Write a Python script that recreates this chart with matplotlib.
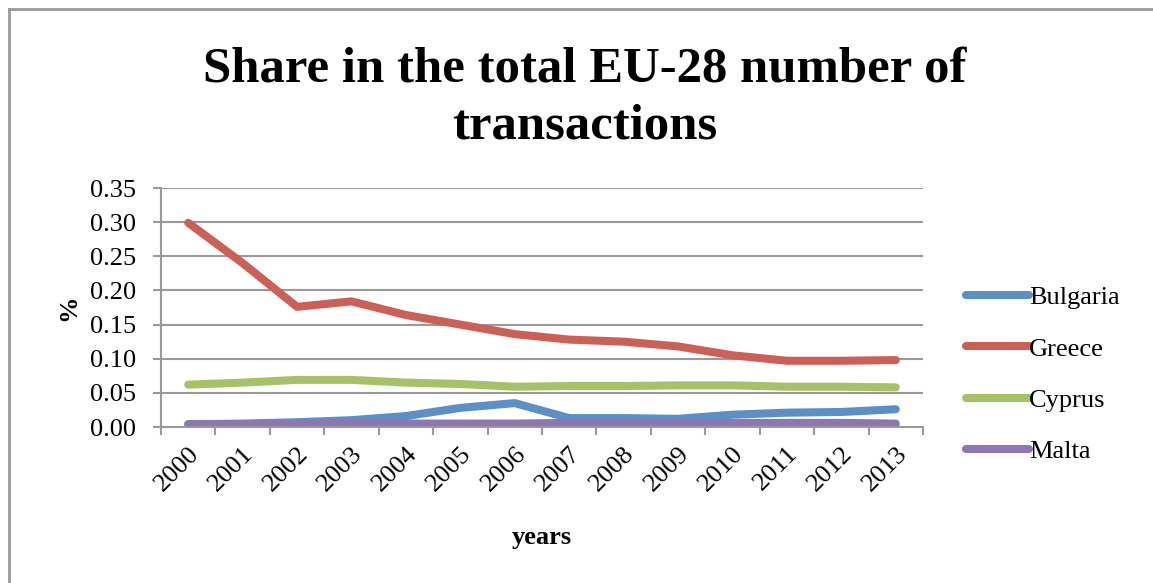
import matplotlib.pyplot as plt
from matplotlib.lines import Line2D

plt.rcParams['font.family'] = ['Liberation Serif', 'DejaVu Serif']

# data
years = ['2000', '2001', '2002', '2003', '2004', '2005', '2006',
         '2007', '2008', '2009', '2010', '2011', '2012', '2013']
bulgaria = [0.004, 0.005, 0.007, 0.010, 0.016, 0.028, 0.035,
            0.013, 0.013, 0.012, 0.018, 0.021, 0.022, 0.026]
greece = [0.299, 0.240, 0.176, 0.184, 0.164, 0.150, 0.136,
          0.128, 0.125, 0.118, 0.105, 0.097, 0.097, 0.098]
cyprus = [0.062, 0.065, 0.069, 0.069, 0.065, 0.063, 0.059,
          0.060, 0.060, 0.061, 0.061, 0.059, 0.059, 0.058]
malta = [0.004, 0.004, 0.004, 0.005, 0.005, 0.005, 0.005,
         0.006, 0.006, 0.006, 0.006, 0.006, 0.006, 0.005]

names = ['Bulgaria', 'Greece', 'Cyprus', 'Malta']
colors = ['#5A8FC8', '#CC5F56', '#A6C266', '#8D76B1']

fig = plt.figure(figsize=(11.53, 5.83), dpi=100)
ax = fig.add_axes([161/1153, 1 - 427/583, 762/1153, 239/583])

x = list(range(len(years)))
for vals, name, c in zip([bulgaria, greece, cyprus, malta], names, colors):
    ax.plot(x, vals, color=c, linewidth=5.8, solid_capstyle='round',
            solid_joinstyle='round', label=name)

ax.set_xlim(-0.5, len(years) - 0.5)
ax.set_ylim(0, 0.35)
ax.set_yticks([0, 0.05, 0.10, 0.15, 0.20, 0.25, 0.30, 0.35])
ax.set_yticklabels(['%.2f' % v for v in ax.get_yticks()], fontsize=19)
ax.set_xticks(x)
ax.set_xticklabels(years, rotation=45, ha='right', va='top',
                   rotation_mode='anchor', fontsize=19)
ax.set_xticks([i - 0.5 for i in range(len(years) + 1)], minor=True)
ax.tick_params(axis='x', which='major', length=0, pad=11)
ax.tick_params(axis='x', which='minor', length=6, color='#9A9A9A', width=1.5)
ax.tick_params(axis='y', length=6, color='#9A9A9A', width=1.5, pad=12)

ax.grid(axis='y', color='#9A9A9A', linewidth=1.5)
ax.set_axisbelow(True)
for s in ['top', 'right']:
    ax.spines[s].set_visible(False)
ax.spines['left'].set_color('#9A9A9A')
ax.spines['left'].set_linewidth(1.5)
ax.spines['bottom'].set_color('#9A9A9A')
ax.spines['bottom'].set_linewidth(1.5)

ax.set_xlabel('years', fontsize=19, fontweight='bold', labelpad=22)
ax.set_ylabel('%', fontsize=19, fontweight='bold', labelpad=7)

fig.text(0.507, 0.832, 'Share in the total EU-28 number of\ntransactions',
         ha='center', va='center', fontsize=36.5, fontweight='bold',
         linespacing=1.3)

ax.legend(loc='upper left', bbox_to_anchor=(966/1153, 1 - 286/583),
          bbox_transform=fig.transFigure, frameon=False, fontsize=19,
          handlelength=2.4, handletextpad=0.0, labelspacing=1.05,
          borderaxespad=0, borderpad=0)

# chart area border (left and top only visible)
fig.add_artist(Line2D([9/1153, 9/1153], [0, 1 - 9/583], color='#9A9A9A', linewidth=2))
fig.add_artist(Line2D([9/1153, 1], [1 - 9/583, 1 - 9/583], color='#9A9A9A', linewidth=2))

fig.savefig('out.png', dpi=100)
